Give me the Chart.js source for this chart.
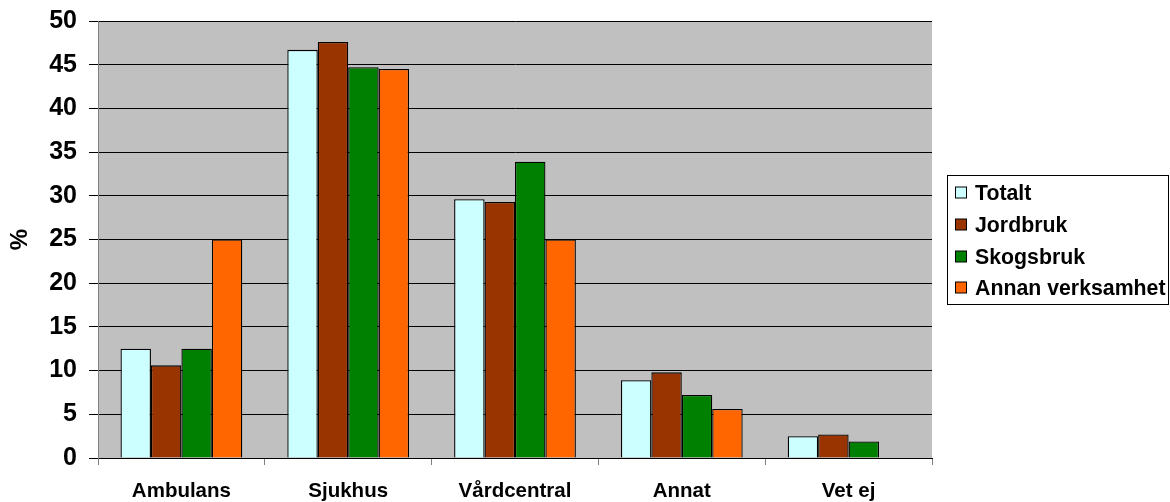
<!DOCTYPE html>
<html>
<head>
<meta charset="utf-8">
<script src="https://cdn.jsdelivr.net/npm/chart.js@4.4.1/dist/chart.umd.min.js"></script>
<style>
  html, body { margin: 0; padding: 0; background: #ffffff; }
  #wrap { width: 1170px; height: 502px; }
</style>
</head>
<body>
<div id="wrap"><canvas id="c" width="1170" height="502"></canvas></div>
<script>
const categories = ['Ambulans', 'Sjukhus', 'Vårdcentral', 'Annat', 'Vet ej'];
const seriesNames = ['Totalt', 'Jordbruk', 'Skogsbruk', 'Annan verksamhet'];
const totalt = [12.5, 46.7, 29.6, 8.9, 2.5];
const jordbruk = [10.6, 47.6, 29.3, 9.8, 2.7];
const skogsbruk = [12.5, 44.7, 33.9, 7.2, 1.9];
const annanVerksamhet = [25.0, 44.5, 25.0, 5.6, 0];
const seriesColors = ['#CCFFFF', '#993300', '#008000', '#FF6600'];
const yTickStep = 5;
const yMax = 50;

const FONT = "'Liberation Sans', Arial, sans-serif";

const plotBg = {
  id: 'plotBg',
  beforeDraw(chart) {
    const { ctx, chartArea: a } = chart;
    ctx.save();
    ctx.fillStyle = '#C0C0C0';
    ctx.fillRect(a.left, a.top, a.right - a.left, a.bottom - a.top);
    ctx.restore();
  }
};

const boxLegend = {
  id: 'boxLegend',
  afterDraw(chart) {
    const { ctx } = chart;
    const x0 = 947.5, y0 = 175.5, w = 221, h = 129;
    ctx.save();
    ctx.fillStyle = '#ffffff';
    ctx.fillRect(x0, y0, w, h);
    ctx.strokeStyle = '#000000';
    ctx.lineWidth = 1;
    ctx.strokeRect(x0, y0, w, h);
    const rows = [193, 225, 257, 288];
    chart.data.datasets.forEach((ds, i) => {
      const cy = rows[i];
      ctx.fillStyle = ds.backgroundColor;
      ctx.fillRect(955.5, cy - 6, 11, 11);
      ctx.strokeStyle = '#000000';
      ctx.strokeRect(955.5, cy - 6, 11, 11);
      ctx.fillStyle = '#000000';
      ctx.font = 'bold 21.3px ' + FONT;
      ctx.textBaseline = 'middle';
      ctx.textAlign = 'left';
      ctx.fillText(ds.label, 975, cy + 1);
    });
    ctx.restore();
  }
};

const seriesData = [totalt, jordbruk, skogsbruk, annanVerksamhet];

new Chart(document.getElementById('c'), {
  type: 'bar',
  data: {
    labels: categories,
    datasets: seriesNames.map((name, i) => ({
      label: name,
      data: seriesData[i],
      backgroundColor: seriesColors[i],
      borderColor: '#000000',
      borderWidth: 1.3,
      categoryPercentage: 0.73,
      barPercentage: 1.0
    }))
  },
  options: {
    responsive: false,
    animation: false,
    layout: { padding: { left: 0, right: 238, top: 21, bottom: 0 } },
    plugins: {
      legend: { display: false },
      tooltip: { enabled: false }
    },
    scales: {
      x: {
        offset: true,
        grid: {
          offset: true,
          drawOnChartArea: false,
          drawTicks: true,
          tickLength: 7,
          color: '#808080'
        },
        border: { display: true, color: '#000000' },
        ticks: {
          color: '#000000',
          padding: 14,
          font: { family: FONT, size: 20.5, weight: 'bold' }
        },
        afterFit(scale) { scale.height = 44; scale.paddingLeft = 0; scale.paddingRight = 0; }
      },
      y: {
        min: 0,
        max: yMax,
        ticks: {
          stepSize: yTickStep,
          color: '#000000',
          padding: 12,
          font: { family: FONT, size: 25, weight: 'bold' }
        },
        grid: {
          color: '#000000',
          lineWidth: 1,
          drawTicks: true,
          tickLength: 9
        },
        border: { display: true, color: '#808080' },
        title: {
          display: true,
          text: '%',
          color: '#000000',
          padding: { top: 6, bottom: 0 },
          font: { family: FONT, size: 24, weight: 'bold' }
        },
        afterFit(scale) { scale.width = 98; scale.paddingTop = 0; scale.paddingBottom = 0; }
      }
    }
  },
  plugins: [plotBg, boxLegend]
});
</script>
</body>
</html>
